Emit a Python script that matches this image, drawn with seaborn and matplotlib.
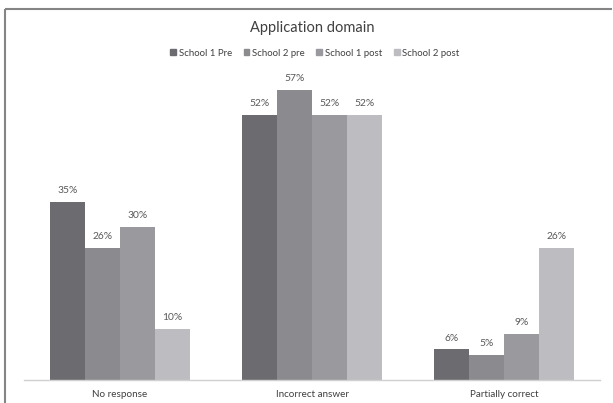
import matplotlib
matplotlib.use("Agg")
import matplotlib.pyplot as plt
import seaborn as sns
import pandas as pd
from matplotlib.patches import Rectangle
from matplotlib.lines import Line2D

categories = ["No response", "Incorrect answer", "Partially correct"]
series_names = ["School 1 Pre", "School 2 pre", "School 1 post", "School 2 post"]
school1_pre = [35, 52, 6]
school2_pre = [26, 57, 5]
school1_post = [30, 52, 9]
school2_post = [10, 52, 26]
colors = ["#6c6c70", "#8b8b8f", "#9a9a9e", "#bdbdc1"]

rows = []
for name, vals in zip(series_names, [school1_pre, school2_pre, school1_post, school2_post]):
    for cat, v in zip(categories, vals):
        rows.append({"category": cat, "series": name, "value": v})
df = pd.DataFrame(rows)

sns.set_theme(style="white")
plt.rcParams["font.family"] = ["Lato", "DejaVu Sans"]

fig = plt.figure(figsize=(6.13, 4.03), dpi=100, facecolor="white", edgecolor="white")
ax = fig.add_axes([0.039, 0.057, 0.940, 0.758])

sns.barplot(data=df, x="category", y="value", hue="series", order=categories,
            hue_order=series_names, palette=colors, width=0.725, gap=0,
            saturation=1, linewidth=0, ax=ax, legend=False)

for container in ax.containers:
    ax.bar_label(container, fmt="%.0f%%", padding=5, fontsize=7.4, color="#595959")

ax.set_ylim(0, 60)
ax.set_xlim(-0.5, 2.5)
ax.set_xlabel("")
ax.set_ylabel("")
ax.set_yticks([])
ax.tick_params(axis="x", length=0, pad=7, labelsize=7.1, labelcolor="#404040")
for side in ["top", "left", "right"]:
    ax.spines[side].set_visible(False)
ax.spines["bottom"].set_color("#d0d0d0")
ax.spines["bottom"].set_linewidth(1.0)

# Legend row under the title
handles = [Rectangle((0, 0), 1, 1, color=c) for c in colors]
fig.legend(handles, series_names, loc="center", bbox_to_anchor=(0.514, 0.868),
           ncol=4, frameon=False, fontsize=6.9, handlelength=0.6, handleheight=0.6,
           handletextpad=0.3, columnspacing=1.2, labelcolor="#404040")

fig.text(0.509, 0.931, "Application domain", ha="center", va="center",
         fontsize=10.5, color="#404040")

# Chart area frame: top and left edges only
x0 = 4.5 / 613
y0 = 1 - 8.5 / 403
fig.add_artist(Line2D([x0, x0], [0, y0], transform=fig.transFigure,
                      color="#858585", linewidth=1.5, solid_capstyle="butt"))
fig.add_artist(Line2D([x0, 0.998], [y0, y0], transform=fig.transFigure,
                      color="#858585", linewidth=1.5, solid_capstyle="butt"))

fig.savefig("out.png", dpi=100, facecolor="white", edgecolor="white")
